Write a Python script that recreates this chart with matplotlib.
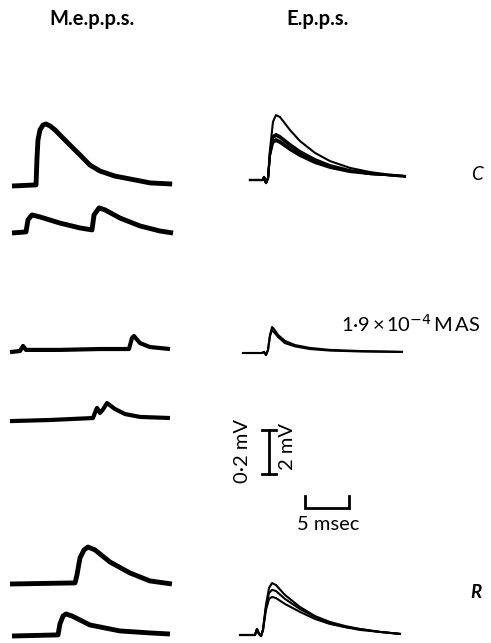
import matplotlib.pyplot as plt
from matplotlib.transforms import Affine2D

plt.rcParams['font.family'] = ['Lato', 'DejaVu Sans']

# scales (5 msec, 0.2 mV / 2 mV)
PX_PER_MS = 8.8
PX_PER_MV_MEPP = 220.0
PX_PER_MV_EPP = 22.0

# ---- m.e.p.p. traces (time in ms, potential in mV) ----
m1_t = [0, 2.73, 2.84, 2.95, 3.18, 3.52, 3.86, 4.32, 4.89, 5.45, 6.59, 7.73, 8.86, 10.0, 11.7, 13.4, 15.7, 18.2]
m1_v = [0, 0.005, 0.127, 0.209, 0.255, 0.277, 0.282, 0.273, 0.255, 0.232, 0.186, 0.141, 0.095, 0.068,
        0.045, 0.032, 0.014, 0.009]

m2_t = [0, 1.59, 1.82, 2.27, 3.18, 5.45, 7.73, 9.09, 9.32, 9.89, 10.57, 12.27, 14.55, 16.82, 18.3]
m2_v = [0, 0.005, 0.06, 0.082, 0.073, 0.045, 0.023, 0.014, 0.082, 0.114, 0.105, 0.068, 0.032, 0.009, 0]

m3_t = [0, 1.14, 1.48, 1.82, 5.68, 10.2, 13.52, 13.86, 14.09, 14.77, 15.9, 18.18]
m3_v = [-0.005, 0, 0.023, 0.005, 0.005, 0.009, 0.009, 0.059, 0.068, 0.036, 0.018, 0.009]

m4_t = [0, 4.55, 9.43, 9.77, 9.89, 10.23, 10.6, 11.02, 11.93, 13.07, 14.77, 18.18]
m4_v = [-0.005, 0, 0.009, 0.045, 0.055, 0.032, 0.05, 0.077, 0.05, 0.027, 0.014, 0.009]

m5_t = [0, 7.39, 7.61, 7.95, 8.41, 8.86, 9.66, 11.36, 13.64, 15.9, 18.4]
m5_v = [0, 0.005, 0.041, 0.118, 0.155, 0.168, 0.155, 0.10, 0.05, 0.014, 0]

m6_t = [0, 5.23, 5.45, 5.8, 6.14, 6.82, 8.86, 12.27, 15.68, 17.95]
m6_v = [0, 0.005, 0.055, 0.091, 0.10, 0.091, 0.05, 0.023, 0.014, 0.009]

# ---- e.p.p. traces, several superimposed sweeps per panel ----
e1_t = [0, 1.48, 1.59, 1.82, 2.05, 2.27, 2.61, 2.95, 3.41, 4.55, 5.68, 7.39, 9.09, 11.36, 13.64, 15.34, 17.61]
e1_sweeps = [
    [0, 0, 0.14, -0.14, 0.09, 1.36, 2.64, 2.95, 2.86, 2.27, 1.77, 1.23, 0.86, 0.55, 0.36, 0.27, 0.18],
    [0, 0, 0.14, -0.14, 0.09, 1.27, 2.00, 2.09, 2.00, 1.64, 1.32, 0.95, 0.68, 0.45, 0.32, 0.23, 0.18],
    [0, 0, 0.14, -0.14, 0.09, 1.23, 1.91, 2.00, 1.91, 1.55, 1.23, 0.86, 0.64, 0.41, 0.27, 0.23, 0.18],
    [0, 0, 0.14, -0.14, 0.09, 1.14, 1.77, 1.86, 1.77, 1.45, 1.14, 0.82, 0.59, 0.41, 0.27, 0.23, 0.18],
    [0, 0, 0.14, -0.14, 0.09, 1.09, 1.68, 1.77, 1.68, 1.36, 1.09, 0.77, 0.55, 0.36, 0.27, 0.23, 0.14],
]

e2_t = [0, 2.16, 2.39, 2.61, 2.84, 3.07, 3.30, 3.52, 3.98, 4.77, 5.91, 7.61, 9.89, 13.3, 18.07]
e2_sweeps = [
    [0, 0, 0.05, -0.09, 0.14, 0.82, 1.18, 1.09, 0.82, 0.55, 0.36, 0.23, 0.14, 0.09, 0.05],
    [0, 0, 0.05, -0.09, 0.14, 0.77, 1.05, 0.95, 0.73, 0.45, 0.30, 0.18, 0.11, 0.07, 0.05],
]

e3_t = [0, 1.70, 1.93, 2.16, 2.39, 2.61, 2.95, 3.30, 3.64, 4.09, 5.11, 6.82, 8.52, 10.23, 11.93, 13.64, 15.91, 18.18]
e3_sweeps = [
    [0, 0, 0.27, 0.05, -0.05, 0.23, 1.36, 2.14, 2.36, 2.27, 1.82, 1.27, 0.86, 0.59, 0.41, 0.27, 0.14, 0.05],
    [0, 0, 0.27, 0.05, -0.05, 0.23, 1.27, 1.91, 2.05, 2.00, 1.64, 1.18, 0.82, 0.55, 0.36, 0.27, 0.14, 0.05],
    [0, 0, 0.27, 0.05, -0.05, 0.23, 1.14, 1.64, 1.73, 1.68, 1.41, 1.05, 0.73, 0.50, 0.36, 0.23, 0.14, 0.05],
]

# layout: (trace, origin x px, baseline y px, line width)
mepp_layout = [((m1_t, m1_v), 12, 186, 3.5), ((m2_t, m2_v), 12, 233, 3.5),
               ((m3_t, m3_v), 10, 351, 3.0), ((m4_t, m4_v), 10, 420, 3.0),
               ((m5_t, m5_v), 10, 584, 3.5), ((m6_t, m6_v), 12, 636, 3.5)]
epp_layout = [((e1_t, e1_sweeps), 250, 180), ((e2_t, e2_sweeps), 243, 353),
              ((e3_t, e3_sweeps), 240, 635)]

fig = plt.figure(figsize=(4.91, 6.43), dpi=100)
ax = fig.add_axes([0, 0, 1, 1])
ax.set_xlim(0, 491)
ax.set_ylim(643, 0)
ax.axis('off')


def trace_transform(x0, y0, px_per_mv):
    return Affine2D().scale(PX_PER_MS, -px_per_mv).translate(x0, y0) + ax.transData


for (t, v), x0, y0, lw in mepp_layout:
    ax.plot(t, v, color='black', lw=lw, solid_capstyle='butt', solid_joinstyle='round',
            transform=trace_transform(x0, y0, PX_PER_MV_MEPP))

for (t, sweeps), x0, y0 in epp_layout:
    tr = trace_transform(x0, y0, PX_PER_MV_EPP)
    for v in sweeps:
        ax.plot(t, v, color='black', lw=1.5, solid_joinstyle='round', transform=tr)

# calibration bars
tr_bar = trace_transform(269, 474, PX_PER_MV_MEPP)
ax.plot([0, 0], [0, 0.2], color='black', lw=2.0, transform=tr_bar)
ax.plot([-0.8, 0.8], [0, 0], color='black', lw=2.0, transform=tr_bar)
ax.plot([-0.8, 0.8], [0.2, 0.2], color='black', lw=2.0, transform=tr_bar)
tr_time = trace_transform(305, 508, PX_PER_MV_MEPP)
ax.plot([0, 0, 5, 5], [0.055, 0, 0, 0.055], color='black', lw=2.0,
        solid_joinstyle='miter', transform=tr_time)

# labels
ax.text(92, 19, 'M.e.p.p.s.', ha='center', va='center', fontsize=14.5, fontweight='bold')
ax.text(318, 19, 'E.p.p.s.', ha='center', va='center', fontsize=14.5, fontweight='bold')
ax.text(477, 175, 'C', ha='center', va='center', fontsize=13.5, fontstyle='italic')
ax.text(476, 593, 'R', ha='center', va='center', fontsize=13.5, fontstyle='italic', fontweight='bold')
ax.text(411, 324, '1·9\u2009×\u200910$^{-4}$\u2009M\u2009AS', ha='center', va='center', fontsize=14.5)
ax.text(243, 451, '0·2 mV', ha='center', va='center', rotation=90, fontsize=14.5)
ax.text(288, 447, '2 mV', ha='center', va='center', rotation=90, fontsize=14.5)
ax.text(328, 525, '5 msec', ha='center', va='center', fontsize=14.5)

fig.savefig('out.png', dpi=100)
